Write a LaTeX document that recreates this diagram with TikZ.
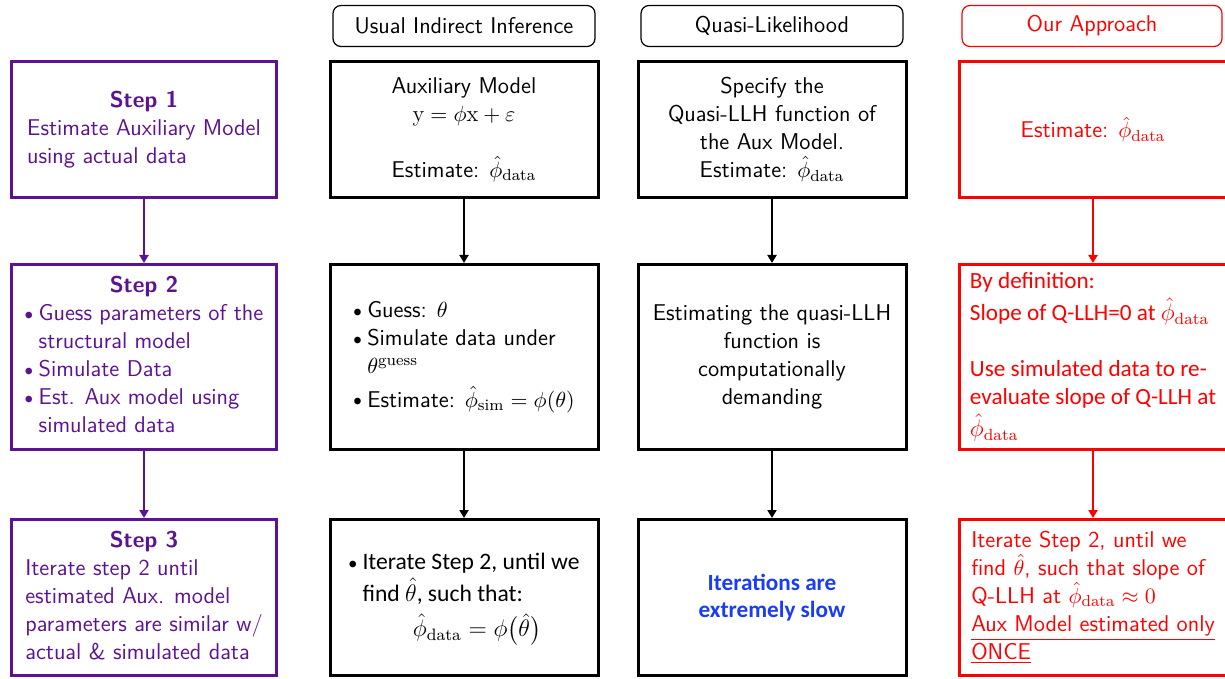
\documentclass[tikz,border=0pt]{standalone}
\usepackage{fontspec}
\usepackage{amsmath}
\usepackage{xcolor}
\usepackage{tikz}
\usetikzlibrary{arrows.meta}
\newfontfamily\calib{Carlito}
\definecolor{stepviolet}{RGB}{92,18,145}
\definecolor{slowblue}{RGB}{25,60,245}
\newcommand{\itembul}{\makebox[7pt][l]{\raisebox{0.15ex}{$\scriptstyle\bullet$}}}
\newcommand{\phidata}{\hat{\phi}_{\mathrm{data}}}

\begin{document}
\begin{tikzpicture}[x=0.5pt,y=-0.5pt]
    \useasboundingbox (0,0) rectangle (1225,679);
    \begin{scope}[every node/.style={draw,rounded corners=4pt,line width=0.6pt,minimum width=131pt,minimum height=20.5pt,font=\fontsize{11.4}{14}\selectfont\sffamily}]
    \node (hii) at (464,26) {Usual Indirect Inference};
    \node (hql) at (772,26) {Quasi-Likelihood};
    \node[red,minimum width=130pt] (hoa) at (1092,26) {Our Approach};
    \end{scope}
    \begin{scope}[every node/.style={draw,line width=1.5pt,minimum width=134pt,inner sep=2pt,font=\fontsize{11.4}{14}\selectfont\sffamily}]
    \node[stepviolet,minimum width=132.5pt,minimum height=68pt] (s1) at (144,129.5) {\begin{tabular}{@{}l@{}}
        \multicolumn{1}{@{}c@{}}{\bfseries Step 1}\\
        Estimate Auxiliary Model\\
        using actual data\end{tabular}};
    \node[stepviolet,minimum width=132.5pt,minimum height=92.5pt] (s2) at (144,357) {\begin{tabular}{@{}l@{}}
        \multicolumn{1}{@{}c@{}}{\bfseries Step 2}\\
        \itembul Guess parameters of the\\
        \hspace*{7pt}structural model\\
        \itembul Simulate Data\\
        \itembul Est. Aux model using\\
        \hspace*{7pt}simulated data\end{tabular}};
    \node[stepviolet,minimum width=132.5pt,minimum height=78pt] (s3) at (144,597.5) {\begin{tabular}{@{}l@{}}
        \multicolumn{1}{@{}c@{}}{\bfseries Step 3}\\
        Iterate step 2 until\\
        estimated Aux. model\\
        parameters are similar w/\\
        actual \& simulated data\end{tabular}};
    \node[align=center,minimum height=68pt] (ii1) at (464,129.5) {Auxiliary Model\\
        $\mathrm{y}=\phi\mathrm{x}+\varepsilon$\\[14pt]
        Estimate: $\phidata$};
    \node[minimum height=92.5pt] (ii2) at (464,357) {\begin{tabular}{@{}l@{}}
        \itembul Guess: $\theta$\\
        \itembul Simulate data under\\
        \hspace*{7pt}$\theta^{\mathrm{guess}}$\\[2pt]
        \itembul Estimate: $\hat{\phi}_{\mathrm{sim}}=\phi(\theta)$\end{tabular}};
    \node[minimum height=78pt,font=\calib\fontsize{11.8}{14}\selectfont] (ii3) at (464,597.5) {\begin{tabular}{@{}l@{}l@{}}
        \itembul & Iterate Step 2, until we\\
        & find $\hat{\theta}$, such that:\\[2pt]
        & \multicolumn{1}{c@{}}{$\phidata=\phi\bigl(\hat{\theta}\bigr)$}\end{tabular}};
    \node[align=center,minimum height=68pt] (ql1) at (772,129.5) {Specify the\\
        Quasi-LLH function of\\
        the Aux Model.\\
        Estimate: $\phidata$};
    \node[align=center,minimum height=92.5pt] (ql2) at (772,357) {Estimating the quasi-LLH\\
        function is\\
        computationally\\
        demanding};
    \node[align=center,minimum height=78pt,font=\calib\bfseries\fontsize{11.6}{13.5}\selectfont] (ql3) at (772,597.5) {\textcolor{slowblue}{Iterations are}\\
        \textcolor{slowblue}{extremely slow}};
    \node[red,minimum height=68pt] (oa1) at (1093,129.5) {Estimate: $\phidata$};
    \node[red,align=left,minimum height=92.5pt,font=\calib\fontsize{11.6}{14}\selectfont] (oa2) at (1093,357) {By definition:\\[2pt]
        Slope of Q-LLH=0 at $\phidata$\\[14pt]
        Use simulated data to re-\\
        evaluate slope of Q-LLH at\\[2pt]
        $\phidata$};
    \node[red,align=left,minimum height=78pt] (oa3) at (1093,597.5) {Iterate Step 2, until we\\
        find $\hat{\theta}$, such that slope of\\
        Q-LLH at $\phidata\approx0$\\
        \underline{Aux Model estimated only}\\
        \underline{ONCE}};
    \end{scope}
    \begin{scope}[every edge/.style={draw=black,line width=1pt,-{Triangle[length=4pt,width=4.5pt]}}]
    \path (s1) edge[stepviolet] (s2);
    \path (s2) edge[stepviolet] (s3);
    \path (ii1) edge (ii2);
    \path (ii2) edge (ii3);
    \path (ql1) edge (ql2);
    \path (ql2) edge (ql3);
    \path (oa1) edge[red] (oa2);
    \path (oa2) edge[red] (oa3);
    \end{scope}
\end{tikzpicture}
\end{document}
